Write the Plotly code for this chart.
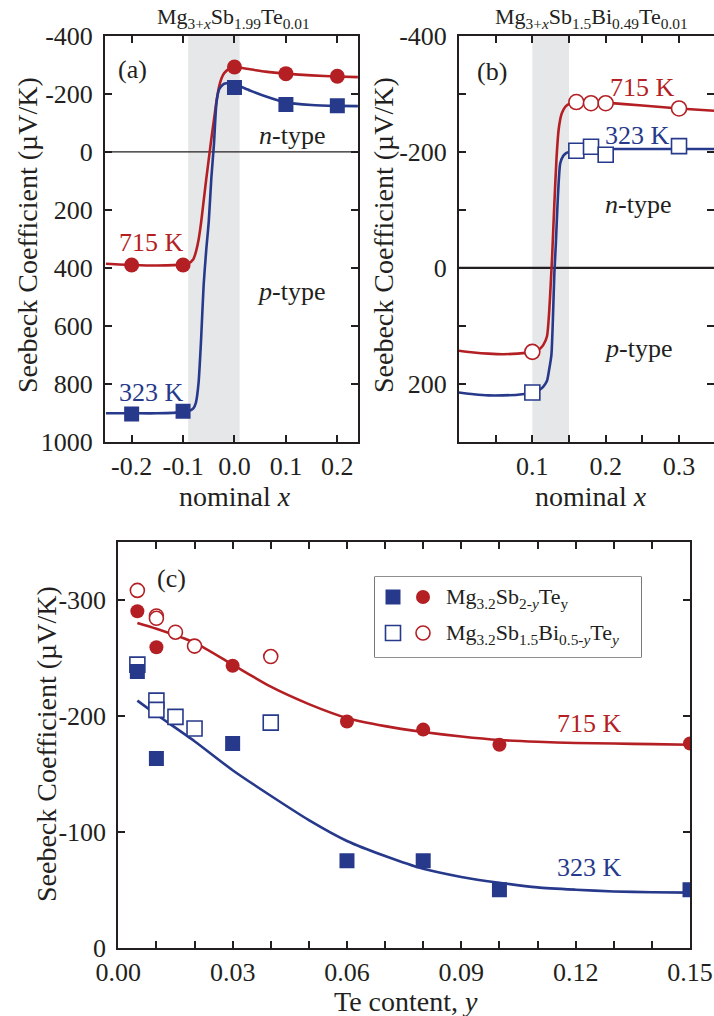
import plotly.graph_objects as go

W, H = 714, 1016
RED = "#b41f24"
BLUE = "#27398b"
INK = "#231f20"
BAND = "#e6e7e8"
FONT = "Liberation Serif, Times New Roman, serif"

# ---------------- (a) Mg3+xSb1.99Te0.01 ----------------
a_x = [-0.2, -0.1, 0.0, 0.1, 0.2]
a_s715 = [390, 390, -293, -270, -261]
a_s323 = [904, 895, -222, -164, -159]

a_fit715_x = [-0.25, -0.2, -0.15, -0.1, -0.09, -0.08, -0.075, -0.07, -0.065, -0.06, -0.055,
              -0.05, -0.045, -0.04, -0.035, -0.03, -0.025, -0.02, -0.01, 0.0, 0.03, 0.06,
              0.1, 0.15, 0.2, 0.24]
a_fit715_y = [386, 390, 392, 389, 385, 370, 345, 305, 245, 170, 95,
              25, -45, -110, -175, -225, -255, -272, -287, -292, -285, -277,
              -270, -264, -260, -258]
a_fit323_x = [-0.25, -0.2, -0.15, -0.1, -0.09, -0.08, -0.075, -0.07, -0.065, -0.06, -0.055,
              -0.05, -0.045, -0.04, -0.035, -0.03, -0.025, -0.02, -0.01, 0.0, 0.03, 0.06,
              0.1, 0.15, 0.2, 0.24]
a_fit323_y = [902, 902, 902, 898, 895, 885, 865, 800, 650, 460, 340,
              240, 90, -25, -170, -215, -228, -235, -238, -234, -212, -192,
              -170, -162, -159, -158]
a_band = [-0.09, 0.01]

# ---------------- (b) Mg3+xSb1.5Bi0.49Te0.01 ----------------
b_x = [0.1, 0.16, 0.18, 0.2, 0.3]
b_s715 = [145, -286, -284, -284, -275]
b_s323 = [215, -202, -209, -195, -210]

b_fit715_x = [0.0, 0.02, 0.04, 0.06, 0.08, 0.1, 0.11, 0.115, 0.12, 0.123, 0.125, 0.127,
              0.13, 0.133, 0.136, 0.14, 0.145, 0.15, 0.16, 0.18, 0.2, 0.25, 0.3, 0.3477]
b_fit715_y = [143, 146, 148, 149, 148, 145, 140, 133, 118, 75, 30, -20,
              -110, -190, -240, -266, -278, -283, -287, -287, -285, -280, -275, -271]
b_fit323_x = [0.0, 0.02, 0.04, 0.06, 0.08, 0.1, 0.11, 0.115, 0.12, 0.123, 0.126, 0.128,
              0.13, 0.132, 0.134, 0.136, 0.138, 0.142, 0.146, 0.15, 0.16, 0.2, 0.25, 0.3, 0.3477]
b_fit323_y = [215, 218, 220, 220, 219, 215, 210, 205, 195, 175, 150, 90,
              10, -40, -100, -150, -180, -193, -198, -200, -203, -205, -205, -205, -205]
b_band = [0.10, 0.15]

# ---------------- (c) Te content dependence ----------------
c_y_sb = [0.005, 0.01, 0.03, 0.06, 0.08, 0.10, 0.15]
c_sb715 = [-290, -259, -243, -195, -188, -175, -176]
c_sb323 = [-238, -163, -176, -75, -75, -50, -50]
c_y_bi = [0.005, 0.01, 0.01, 0.015, 0.02, 0.04]
c_bi715 = [-308, -286, -284, -272, -260, -251]
c_bi323 = [-244, -213, -205, -199, -189, -194]

c_fit_x = [0.005, 0.01, 0.02, 0.03, 0.04, 0.05, 0.06, 0.07, 0.08, 0.09, 0.10,
           0.11, 0.12, 0.13, 0.14, 0.15]
c_fit715 = [-280, -275, -263, -244, -225, -210, -198, -191, -186, -182, -179,
            -177.5, -176.5, -176, -175.5, -175]
c_fit323 = [-213, -201, -178, -153, -131, -110, -92, -79, -68, -61, -56,
            -52, -50, -48.5, -47.8, -47.5]

a_yticks = [-400, -200, 0, 200, 400, 600, 800, 1000]
a_xticks = [-0.2, -0.1, 0.0, 0.1, 0.2]
b_yticks = [-400, -300, -200, -100, 0, 100, 200, 300]
b_xticks = [0.05, 0.1, 0.15, 0.2, 0.25, 0.3]
c_yticks = [-300, -200, -100, 0]
c_xticks = [i / 100 for i in range(16)]


def px(x):
    return x / W


def py(y):
    return 1 - y / H


fig = go.Figure()


def line(x, y, color, xa, ya):
    fig.add_trace(go.Scatter(x=x, y=y, mode="lines", xaxis=xa, yaxis=ya,
                             line=dict(color=color, width=2.6, shape="spline", smoothing=0.6),
                             hoverinfo="skip", showlegend=False))


def pts(x, y, color, symbol, size, xa, ya, open_=False):
    if open_:
        marker = dict(symbol=symbol, size=size, color="white",
                      line=dict(color=color, width=1.6))
    else:
        marker = dict(symbol=symbol, size=size, color=color, line=dict(width=0))
    fig.add_trace(go.Scatter(x=x, y=y, mode="markers", xaxis=xa, yaxis=ya,
                             marker=marker, showlegend=False))


# (a)
line(a_fit715_x, a_fit715_y, RED, "x", "y")
line(a_fit323_x, a_fit323_y, BLUE, "x", "y")
pts(a_x, a_s715, RED, "circle", 15, "x", "y")
pts(a_x, a_s323, BLUE, "square", 15, "x", "y")

# (b)
line(b_fit715_x, b_fit715_y, RED, "x2", "y2")
line(b_fit323_x, b_fit323_y, BLUE, "x2", "y2")
pts(b_x, b_s715, RED, "circle", 15, "x2", "y2", open_=True)
pts(b_x, b_s323, BLUE, "square", 15, "x2", "y2", open_=True)

# (c)
line(c_fit_x, c_fit715, RED, "x3", "y3")
line(c_fit_x, c_fit323, BLUE, "x3", "y3")
pts(c_y_bi, c_bi715, RED, "circle", 14, "x3", "y3", open_=True)
pts(c_y_bi, c_bi323, BLUE, "square", 15, "x3", "y3", open_=True)
pts(c_y_sb, c_sb715, RED, "circle", 14, "x3", "y3")
pts(c_y_sb, c_sb323, BLUE, "square", 15, "x3", "y3")

# legend swatches for (c), drawn on a small pixel-scaled overlay axis
leg_x0, leg_x1, leg_y0, leg_y1 = 375, 641, 577, 657
sw_col = [393, 423]
sw_row = [597, 633]
pts([sw_col[0]], [sw_row[0]], BLUE, "square", 15, "x4", "y4")
pts([sw_col[1]], [sw_row[0]], RED, "circle", 14, "x4", "y4")
pts([sw_col[0]], [sw_row[1]], BLUE, "square", 15, "x4", "y4", open_=True)
pts([sw_col[1]], [sw_row[1]], RED, "circle", 14, "x4", "y4", open_=True)

axis_style = dict(showline=True, linecolor=INK, linewidth=2, mirror="ticks",
                  ticks="inside", ticklen=7, tickwidth=1.5, tickcolor=INK,
                  showgrid=False, zeroline=False, automargin=False,
                  tickfont=dict(family=FONT, size=26, color=INK))
xstyle = dict(axis_style, ticklabelstandoff=0)
ystyle = dict(axis_style, ticklabelstandoff=5)

fig.update_layout(
    width=W, height=H, margin=dict(l=0, r=0, t=0, b=0, autoexpand=False),
    paper_bgcolor="white", plot_bgcolor="white",
    font=dict(family=FONT, color=INK),
    xaxis=dict(domain=[px(105), px(358)], range=[-0.2518, 0.2402], anchor="y",
               tickvals=a_xticks, ticktext=["-0.2", "-0.1", "0.0", "0.1", "0.2"], **xstyle),
    yaxis=dict(domain=[py(441.7), py(36)], range=[1000, -400], anchor="x",
               tickvals=a_yticks, ticktext=[str(v) for v in a_yticks], **ystyle),
    xaxis2=dict(domain=[px(459), 1.0], range=[0, 0.3477], anchor="y2",
                tickvals=b_xticks, ticktext=["", "0.1", "", "0.2", "", "0.3"], **xstyle),
    yaxis2=dict(domain=[py(441.7), py(36)], range=[300, -400], anchor="x2",
                tickvals=b_yticks,
                ticktext=["-400", "", "-200", "", "0", "", "200", ""], **ystyle),
    xaxis3=dict(domain=[px(118.3), px(690)], range=[0, 0.15], anchor="y3",
                tickvals=c_xticks,
                ticktext=[("%.2f" % v) if i % 3 == 0 else "" for i, v in enumerate(c_xticks)],
                **xstyle),
    yaxis3=dict(domain=[py(947.7), py(541.7)], range=[0, -350], anchor="x3",
                tickvals=c_yticks, ticktext=[str(v) for v in c_yticks], **ystyle),
    xaxis4=dict(domain=[px(leg_x0), px(leg_x1)], range=[leg_x0, leg_x1], anchor="y4",
                visible=False, fixedrange=True, automargin=False),
    yaxis4=dict(domain=[py(leg_y1), py(leg_y0)], range=[leg_y1, leg_y0], anchor="x4",
                visible=False, fixedrange=True, automargin=False),
)

shapes = [
    dict(type="rect", xref="x", yref="y domain", x0=a_band[0], x1=a_band[1], y0=0, y1=1,
         fillcolor=BAND, line=dict(width=0), layer="below"),
    dict(type="rect", xref="x2", yref="y2 domain", x0=b_band[0], x1=b_band[1], y0=0, y1=1,
         fillcolor=BAND, line=dict(width=0), layer="below"),
    dict(type="line", xref="x domain", yref="y", x0=0, x1=1, y0=0, y1=0,
         line=dict(color=INK, width=1.3), layer="below"),
    dict(type="line", xref="x2 domain", yref="y2", x0=0, x1=1, y0=0, y1=0,
         line=dict(color=INK, width=2.2), layer="below"),
    dict(type="rect", xref="paper", yref="paper", x0=px(leg_x0), x1=px(leg_x1),
         y0=py(leg_y1), y1=py(leg_y0), fillcolor="white",
         line=dict(color=INK, width=1.2), layer="below"),
]
fig.update_layout(shapes=shapes)


def note(text, x, y, size=26, color=INK, angle=0, xanchor="center"):
    fig.add_annotation(text=text, x=x, y=y, xref="paper", yref="paper", showarrow=False,
                       textangle=angle, xanchor=xanchor, yanchor="middle",
                       font=dict(family=FONT, size=size, color=color))


# panel titles
note("Mg<sub>3+<i>x</i></sub>Sb<sub>1.99</sub>Te<sub>0.01</sub>", px(233), py(18), size=22)
note("Mg<sub>3+<i>x</i></sub>Sb<sub>1.5</sub>Bi<sub>0.49</sub>Te<sub>0.01</sub>", px(591), py(18), size=22)

# axis titles
ytitle = "Seebeck Coefficient (\u00b5V/K)"
note(ytitle, px(27), py(235), size=28, angle=-90)
note(ytitle, px(383), py(235), size=28, angle=-90)
note(ytitle, px(46), py(744), size=28, angle=-90)
note("nominal <i>x</i>", px(235), py(496), size=28)
note("nominal <i>x</i>", px(591), py(496), size=28)
note("Te content, <i>y</i>", px(406), py(1001), size=28)

# in-panel labels
note("(a)", px(132.5), py(70))
note("(b)", px(492), py(71.5))
note("(c)", px(171), py(578))
note("715 K", px(151), py(242), color=RED)
note("323 K", px(151), py(392), color=BLUE)
note("715 K", px(642.5), py(88), color=RED)
note("323 K", px(637.5), py(135), color=BLUE)
note("<i>n</i>-type", px(291.5), py(135))
note("<i>p</i>-type", px(291), py(291.5))
note("<i>n</i>-type", px(637.5), py(205))
note("<i>p</i>-type", px(637.5), py(348))
note("715 K", px(589), py(723), color=RED)
note("323 K", px(589), py(867), color=BLUE)

# legend texts for (c)
note("Mg<sub>3.2</sub>Sb<sub>2-<i>y</i></sub>Te<sub>y</sub>", px(444), py(598), size=22, xanchor="left")
note("Mg<sub>3.2</sub>Sb<sub>1.5</sub>Bi<sub>0.5-<i>y</i></sub>Te<sub><i>y</i></sub>",
     px(444), py(634), size=22, xanchor="left")

fig.write_html("out.html")
